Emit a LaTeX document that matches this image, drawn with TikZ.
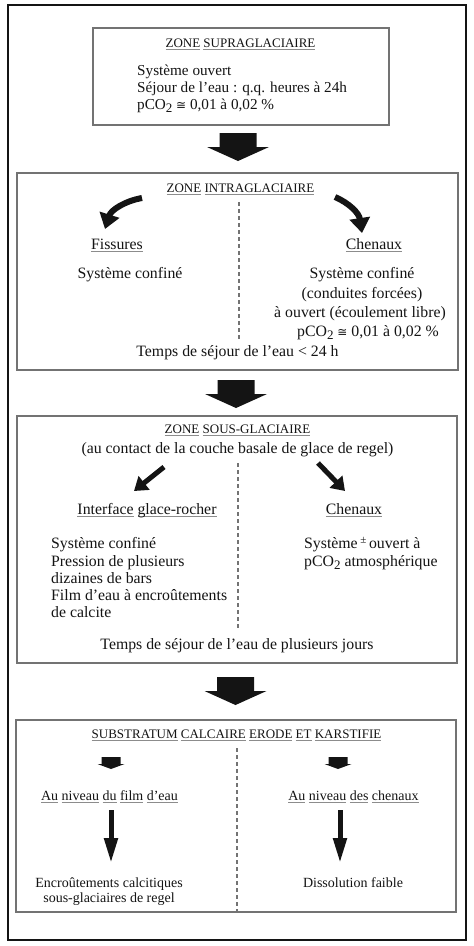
\documentclass[tikz,border=0pt]{standalone}
\usepackage{fontspec}
\setmainfont{Liberation Serif}
\newfontfamily\symf{DejaVu Sans}
\usetikzlibrary{arrows.meta}
\definecolor{ulgray}{gray}{0.55}
\definecolor{boxgray}{gray}{0.45}
\definecolor{inkc}{gray}{0.08}
\newcommand\uu[1]{\setbox0=\hbox{#1}\rlap{\color{ulgray}\rule[-3pt]{\wd0}{0.8pt}}\box0\relax}
\newcommand\pco{pCO\raisebox{-3.5pt}[0pt][0pt]{\fontsize{13}{13}\selectfont 2}}
\newcommand\approxeq{\raisebox{0pt}[0pt][0pt]{\symf\fontsize{12}{12}\selectfont ≅}}
\tikzset{
  zonebox/.style={draw=boxgray, line width=1.2pt, inner sep=0pt, rectangle},
  body/.style={font=\fontsize{15.8}{18}\selectfont, inner sep=0pt, text=inkc},
  bodyone/.style={font=\fontsize{15.2}{17}\selectfont, inner sep=0pt, text=inkc},
  ttl/.style={font=\fontsize{13}{15}\selectfont, inner sep=0pt, text=inkc},
  smalltxt/.style={font=\fontsize{14}{16}\selectfont, inner sep=0pt, text=inkc},
  sepline/.style={draw=boxgray, line width=1.3pt, dash pattern=on 4pt off 3pt},
  bendarr/.style={draw=inkc, line width=6pt, -{Triangle[length=15pt,width=20pt]}},
  wedgearr/.style={draw=inkc, line width=5pt, -{Triangle[length=13pt,width=17pt]}},
  longarr/.style={draw=inkc, line width=5pt, -{Triangle[length=25pt,width=13pt]}},
  bigarrow/.pic={\fill[inkc] (-18.5,0) -- (18.5,0) -- (18.5,14) -- (31,14) -- (0,28) -- (-31,14) -- (-18.5,14) -- cycle;},
  smallarrow/.pic={\fill[inkc] (-9.5,0) -- (9.5,0) -- (9.5,7) -- (13.5,7) -- (0,12) -- (-13.5,7) -- (-9.5,7) -- cycle;}
}
\begin{document}
\begin{tikzpicture}[x=1pt,y=-1pt]
\useasboundingbox (0,0) rectangle (474,946);
\fill[white] (0,0) rectangle (474,946);
% outer frame
\node[draw=inkc, line width=2.2pt, minimum width=458pt, minimum height=935pt, inner sep=0pt] (frame) at (237,472.5) {};

% ---------- Box 1
\node[zonebox, minimum width=296pt, minimum height=97pt] (b1) at (241,76.5) {};
\node[ttl, anchor=base] (t1) at (240.5,47) {\uu{ZONE} \uu{SUPRAGLACIAIRE}};
\node[bodyone, anchor=base west] (b1l1) at (137,75) {Système ouvert};
\node[bodyone, anchor=base west] (b1l2) at (137,92) {Séjour de l'eau : q.q. heures à 24h};
\node[bodyone, anchor=base west] (b1l3) at (137,109) {\pco{} \approxeq{} 0,01 à 0,02 \%};

\pic (ar1) at (238,133) {bigarrow};

% ---------- Box 2
\node[zonebox, minimum width=441pt, minimum height=197pt] (b2) at (237.5,271.5) {};
\node[ttl, anchor=base] (t2) at (240.5,192) {\uu{ZONE} \uu{INTRAGLACIAIRE}};
\draw[sepline] (239,202) -- (239,340);
\coordinate (a2ls) at (142,198);
\coordinate (a2le) at (105,229);
\draw[bendarr] (a2ls) .. controls (125,201) and (111,210) .. (a2le);
\coordinate (a2rs) at (335,197);
\coordinate (a2re) at (362,233);
\draw[bendarr] (a2rs) .. controls (349,203) and (359,213) .. (a2re);
\node[body, anchor=base] (fis) at (117,249) {\uu{Fissures}};
\node[body, anchor=base] (fisl) at (130,278) {Système confiné};
\node[body, anchor=base] (ch2) at (374,249) {\uu{Chenaux}};
\node[body, anchor=base] (ch2a) at (362,278) {Système confiné};
\node[body, anchor=base] (ch2b) at (362,298) {(conduites forcées)};
\node[body, anchor=base] (ch2c) at (360,317) {à ouvert (écoulement libre)};
\node[body, anchor=base] (ch2d) at (368,336) {\pco{} \approxeq{} 0,01 à 0,02 \%};
\node[body, anchor=base] (tp2) at (237.5,356) {Temps de séjour de l'eau < 24 h};

\pic (ar2) at (236,380) {bigarrow};

% ---------- Box 3
\node[zonebox, minimum width=440pt, minimum height=247pt] (b3) at (237,539.5) {};
\node[ttl, anchor=base] (t3) at (237.5,433) {\uu{ZONE} \uu{SOUS-GLACIAIRE}};
\node[body, anchor=base] (t3b) at (237.5,453) {(au contact de la couche basale de glace de regel)};
\draw[sepline] (238,463) -- (238,630);
\coordinate (a3ls) at (164,467);
\coordinate (a3le) at (134,491);
\draw[wedgearr] (a3ls) -- (a3le);
\coordinate (a3rs) at (318,463);
\coordinate (a3re) at (345,491);
\draw[wedgearr] (a3rs) -- (a3re);
\node[body, anchor=base] (igr) at (147,514) {\uu{Interface} \uu{glace-rocher}};
\node[body, anchor=base] (ch3) at (354,514) {\uu{Chenaux}};
\node[body, anchor=base west] (i1) at (51,548) {Système confiné};
\node[body, anchor=base west] (i2) at (51,566) {Pression de plusieurs};
\node[body, anchor=base west] (i3) at (51,583) {dizaines de bars};
\node[body, anchor=base west] (i4) at (51,600) {Film d'eau à encroûtements};
\node[body, anchor=base west] (i5) at (51,617) {de calcite};
\node[body, anchor=base west] (c1) at (304,548) {Système\,\raisebox{5pt}{\fontsize{11}{11}\selectfont ±}\,ouvert à};
\node[body, anchor=base west] (c2) at (304,566) {\pco{} atmosphérique};
\node[body, anchor=base] (tp3) at (237,649) {Temps de séjour de l'eau de plusieurs jours};

\pic (ar3) at (235.5,677) {bigarrow};

% ---------- Box 4
\node[zonebox, minimum width=440pt, minimum height=192pt] (b4) at (236,816) {};
\node[ttl, anchor=base] (t4) at (236.5,738) {\uu{SUBSTRATUM} \uu{CALCAIRE} \uu{ERODE} \uu{ET} \uu{KARSTIFIE}};
\draw[sepline] (237,748) -- (237,912);
\pic (sa1) at (111,757) {smallarrow};
\pic (sa2) at (338,757) {smallarrow};
\node[smalltxt, anchor=base] (f1) at (109.5,800) {\uu{Au} \uu{niveau} \uu{du} \uu{film} \uu{d'eau}};
\node[smalltxt, anchor=base] (f2) at (353.5,800) {\uu{Au} \uu{niveau} \uu{des} \uu{chenaux}};
\coordinate (l1s) at (111,810);
\coordinate (l1e) at (111,863);
\draw[longarr] (l1s) -- (l1e);
\coordinate (l2s) at (340,810);
\coordinate (l2e) at (340,863);
\draw[longarr] (l2s) -- (l2e);
\node[smalltxt, anchor=base] (e1) at (109,887) {Encroûtements calcitiques};
\node[smalltxt, anchor=base] (e2) at (109,902) {sous-glaciaires de regel};
\node[smalltxt, anchor=base] (d1) at (353,887) {Dissolution faible};
\end{tikzpicture}
\end{document}
